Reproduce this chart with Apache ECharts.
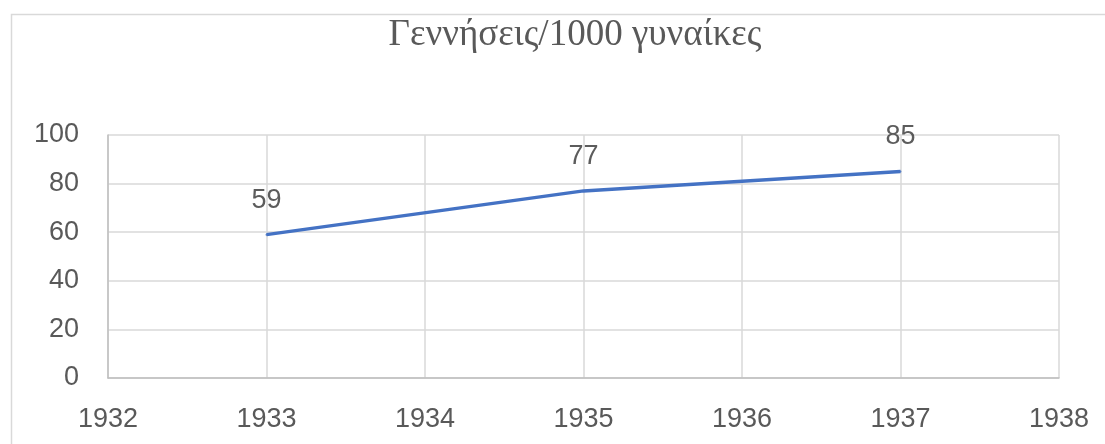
<!DOCTYPE html>
<html><head><meta charset="utf-8">
<script src="https://cdn.jsdelivr.net/npm/echarts@6/dist/echarts.min.js"></script>
<style>html,body{margin:0;padding:0;background:#fff}#c{width:1105px;height:444px}</style>
</head><body><div id="c"></div>
<script>
const titleText = 'Γεννήσεις/1000 γυναίκες';
const years = [1933, 1935, 1937];
const births = [59, 77, 85];
const xMin = 1932, xMax = 1938, xStep = 1;
const yMin = 0, yMax = 100, yStep = 20;

const points = years.map((y, i) => [y, births[i]]);
const chart = echarts.init(document.getElementById('c'));
chart.setOption({
  animation: false,
  backgroundColor: '#fff',
  title: {
    text: titleText, left: 570, top: 12, textAlign: 'center',
    textStyle: { fontFamily: 'Liberation Serif', fontSize: 37, fontWeight: 'normal', color: '#595959' }
  },
  graphic: [{
    type: 'rect', silent: true,
    shape: { x: 11.5, y: 14.5, width: 1200, height: 600 },
    style: { fill: 'none', stroke: '#d9d9d9', lineWidth: 1.5 }
  }],
  grid: { left: 108, right: 46, top: 135, bottom: 66 },
  xAxis: {
    type: 'value', min: xMin, max: xMax, interval: xStep,
    axisLine: { show: true, lineStyle: { color: '#bfbfbf', width: 1.5 } },
    axisTick: { show: false },
    splitLine: { show: true, lineStyle: { color: '#d9d9d9', width: 1.5 } },
    axisLabel: { color: '#595959', fontFamily: 'Liberation Sans', fontSize: 27, margin: 28, formatter: v => String(v) }
  },
  yAxis: {
    type: 'value', min: yMin, max: yMax, interval: yStep,
    axisLine: { show: true, lineStyle: { color: '#bfbfbf', width: 1.5 } },
    axisTick: { show: false },
    splitLine: { show: true, lineStyle: { color: '#d9d9d9', width: 1.5 } },
    axisLabel: { color: '#595959', fontFamily: 'Liberation Sans', fontSize: 27, margin: 29 }
  },
  series: [{
    type: 'line',
    data: points,
    symbol: 'none',
    lineStyle: { color: '#4472C4', width: 3.5 }
  }, {
    type: 'scatter',
    data: points,
    symbolSize: 2,
    itemStyle: { color: '#4472C4' },
    label: { show: true, position: 'top', distance: 20, color: '#333333', fontFamily: 'Liberation Sans', fontSize: 27 }
  }]
});
</script></body></html>
